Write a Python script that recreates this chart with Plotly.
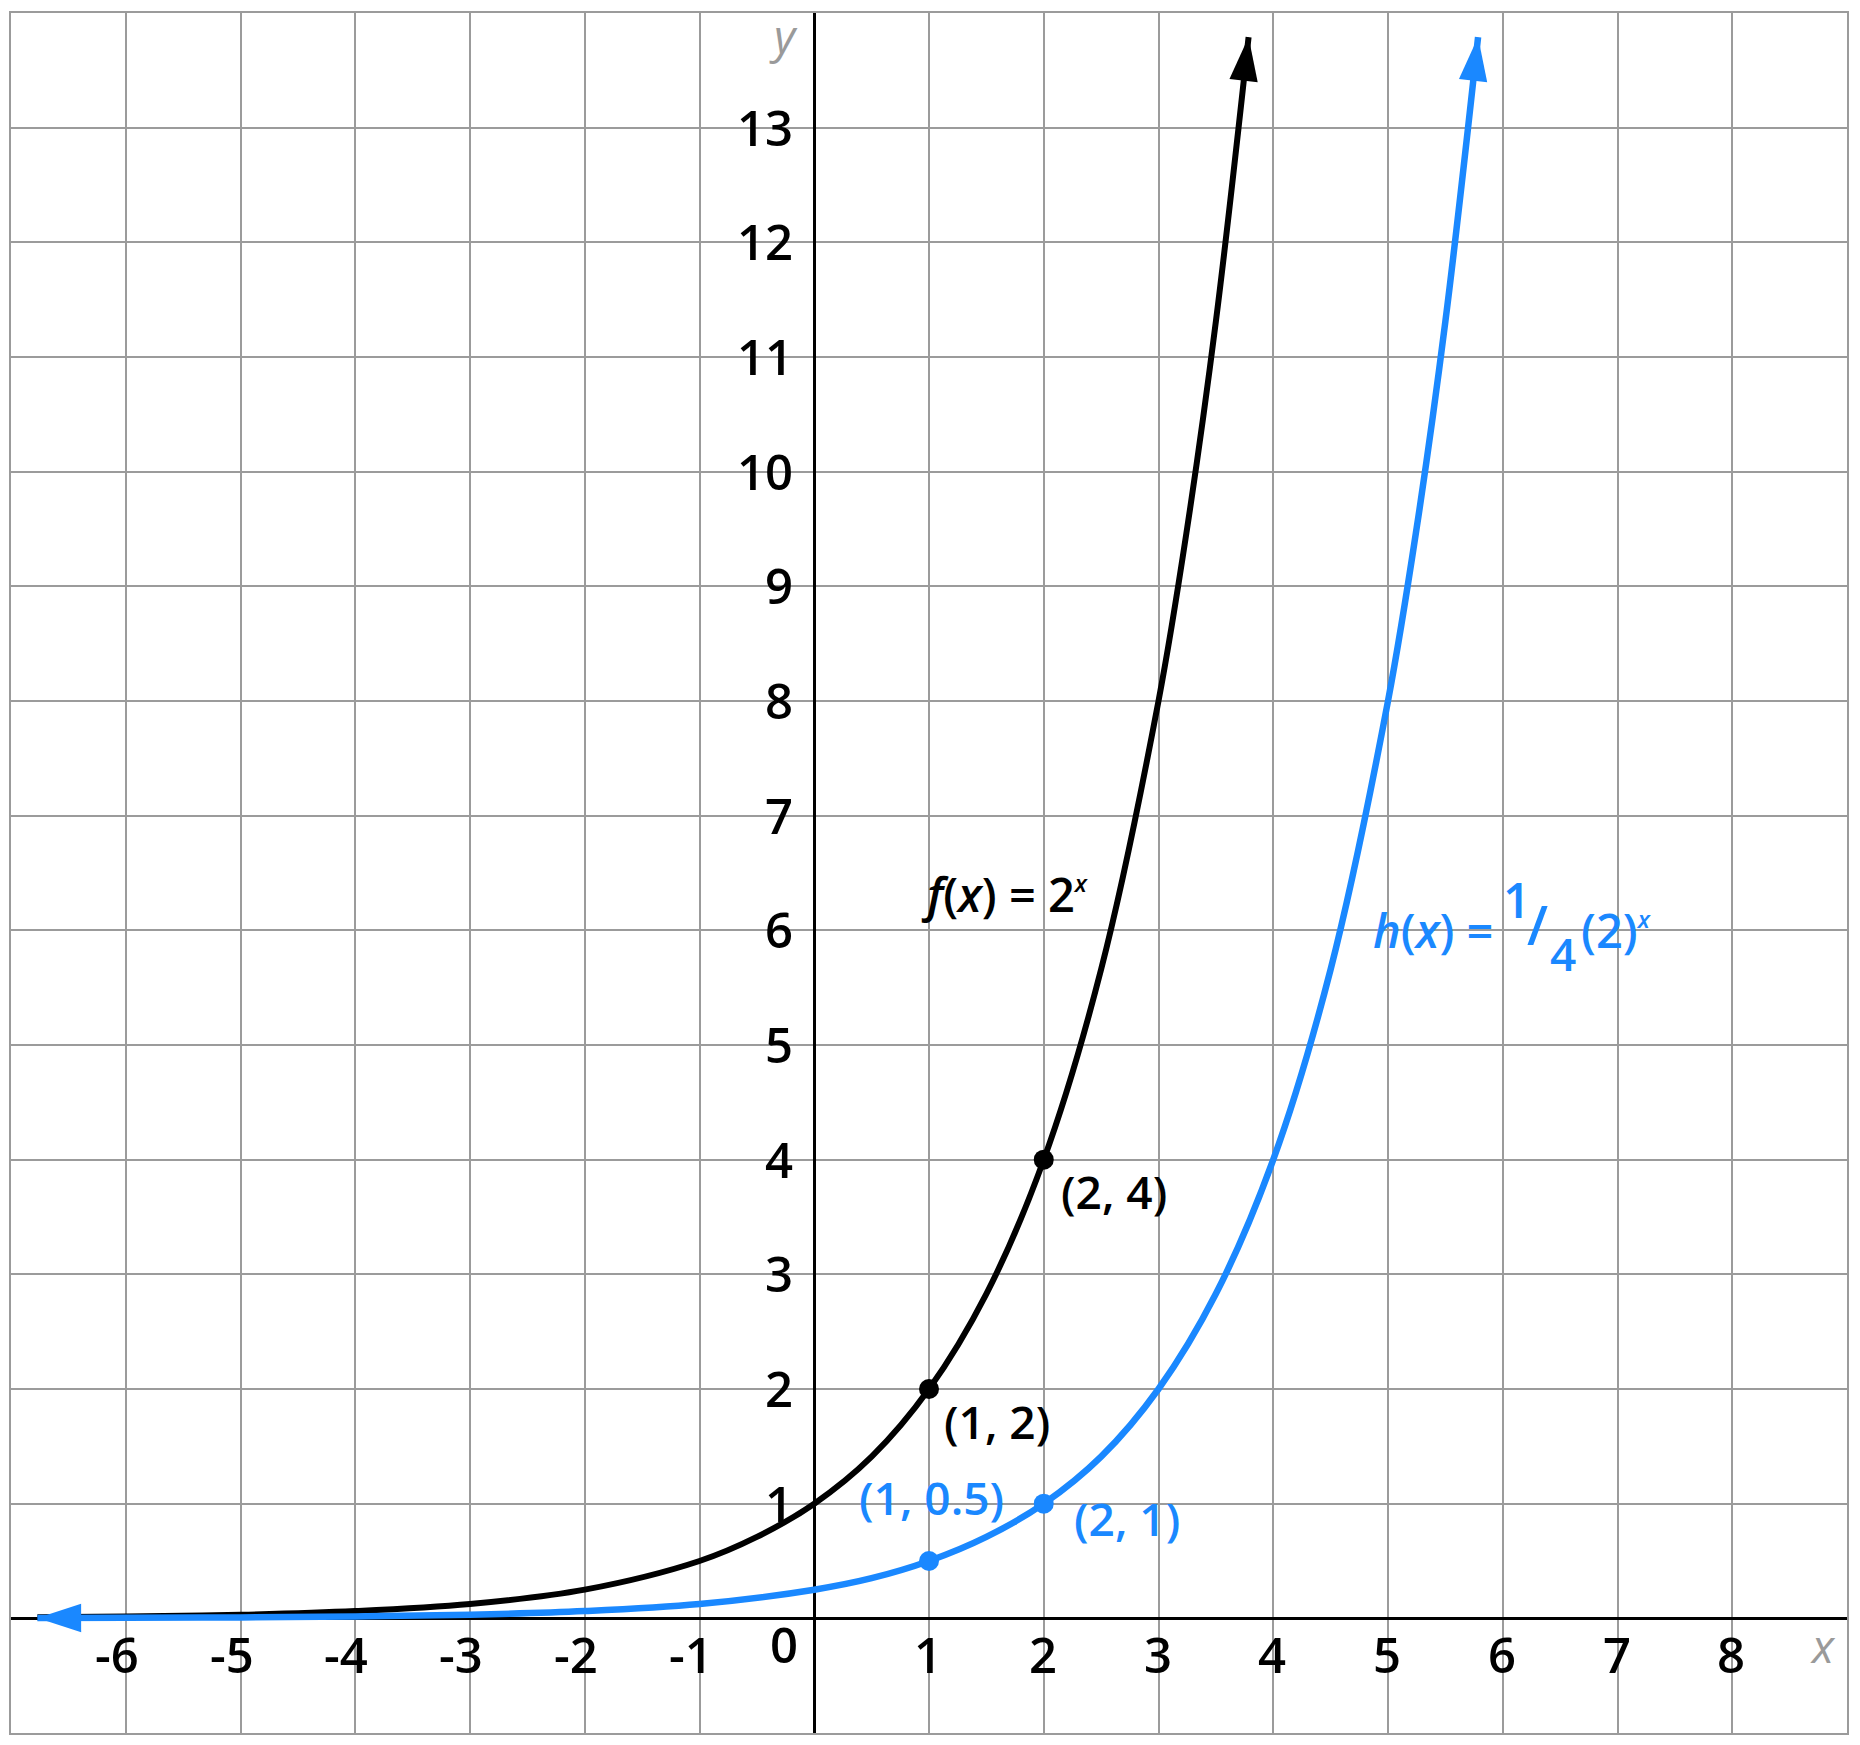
import plotly.graph_objects as go

# ---------------- data ----------------
f_x = [-6.77, -6, -5, -4, -3, -2, -1, -0.5, 0, 0.5, 1, 1.5, 2, 2.5, 3, 3.25, 3.5, 3.785]
f_y = [0.009, 0.016, 0.031, 0.063, 0.125, 0.25, 0.5, 0.71, 1, 1.41, 2, 2.83, 4, 5.66, 8, 9.51, 11.31, 13.79]

h_x = [-6.77, -6, -5, -4, -3, -2, -1, 0, 0.5, 1, 1.5, 2, 2.5, 3, 3.5, 4, 4.5, 5, 5.25, 5.5, 5.785]
h_y = [0.002, 0.004, 0.008, 0.016, 0.031, 0.063, 0.125, 0.25, 0.35, 0.5, 0.71, 1, 1.41, 2, 2.83, 4, 5.66, 8, 9.51, 11.31, 13.79]

f_pts_x = [1, 2]
f_pts_y = [2, 4]
h_pts_x = [1, 2]
h_pts_y = [0.5, 1]
f_pts_text = ["(1, 2)", "(2, 4)"]
h_pts_text = ["(1, 0.5)", "(2, 1)"]

x_tick_vals = [-6, -5, -4, -3, -2, -1, 1, 2, 3, 4, 5, 6, 7, 8]
y_tick_vals = [1, 2, 3, 4, 5, 6, 7, 8, 9, 10, 11, 12, 13]
x_range = [-7, 9]
y_range = [-1, 14]

# ---------------- style ----------------
BLACK = "#000000"
BLUE = "#1a88ff"
GRID = "#9b9b9b"
AXLBL = "#9a9a9a"
FONT = "Open Sans"
ARROW = 46

fig = go.Figure()

def curve(xs, ys, color, width):
    n = len(xs)
    return go.Scatter(
        x=xs, y=ys, mode="lines+markers",
        line=dict(color=color, width=width, shape="spline"),
        marker=dict(symbol=["circle"] * (n - 1) + ["arrow"],
                    size=[0] * (n - 1) + [ARROW], opacity=1,
                    angleref="previous", color=color, line=dict(width=0)),
        hoverinfo="skip", showlegend=False, cliponaxis=False,
    )

fig.add_trace(curve(f_x, f_y, BLACK, 6))
fig.add_trace(curve(h_x, h_y, BLUE, 6.5))

# left arrow head of the blue curve
fig.add_trace(go.Scatter(
    x=[h_x[1], h_x[0]], y=[h_y[1], h_y[0]], mode="markers",
    marker=dict(symbol=["circle", "arrow"], size=[0, ARROW], angleref="previous", opacity=1,
                color=BLUE, line=dict(width=0)),
    hoverinfo="skip", showlegend=False, cliponaxis=False,
))

fig.add_trace(go.Scatter(x=f_pts_x, y=f_pts_y, mode="markers",
                         marker=dict(color=BLACK, size=20, opacity=1), hoverinfo="skip", showlegend=False))
fig.add_trace(go.Scatter(x=h_pts_x, y=h_pts_y, mode="markers",
                         marker=dict(color=BLUE, size=20, opacity=1), hoverinfo="skip", showlegend=False))

ann = []
tick_font = dict(family=FONT, size=49, color=BLACK, weight=600)
for v in x_tick_vals:
    ann.append(dict(x=v, y=0, text=str(v), showarrow=False, xanchor="right", yanchor="middle",
                    xshift=15, yshift=-35.5, font=tick_font))
for v in y_tick_vals:
    ann.append(dict(x=0, y=v, text=str(v), showarrow=False, xanchor="right", yanchor="middle",
                    xshift=-19, yshift=1, font=tick_font))
ann.append(dict(x=0, y=0, text="0", showarrow=False, xanchor="center", yanchor="middle",
                xshift=-30, yshift=-25.5, font=tick_font))

# axis names
ax_font = dict(family=FONT, size=46, color=AXLBL, weight=400)
ann.append(dict(x=0, y=y_range[1], text="<i>y</i>", showarrow=False, xanchor="center", yanchor="middle",
                xshift=-31, yshift=-22, font=ax_font))
ann.append(dict(x=x_range[1], y=0, text="<i>x</i>", showarrow=False, xanchor="center", yanchor="middle",
                xshift=-24, yshift=-26.5, font=ax_font))

# point labels
pt_font_k = dict(family=FONT, size=46, color=BLACK, weight=600)
pt_font_b = dict(family=FONT, size=46, color=BLUE, weight=600)
ann.append(dict(x=f_pts_x[0], y=f_pts_y[0], text=f_pts_text[0], showarrow=False, xanchor="left",
                yanchor="middle", xshift=13, yshift=-32, font=pt_font_k))
ann.append(dict(x=f_pts_x[1], y=f_pts_y[1], text=f_pts_text[1], showarrow=False, xanchor="left",
                yanchor="middle", xshift=15, yshift=-31, font=pt_font_k))
ann.append(dict(x=h_pts_x[0], y=h_pts_y[0], text=h_pts_text[0], showarrow=False, xanchor="center",
                yanchor="middle", xshift=2, yshift=64, font=pt_font_b))
ann.append(dict(x=h_pts_x[1], y=h_pts_y[1], text=h_pts_text[1], showarrow=False, xanchor="left",
                yanchor="middle", xshift=28, yshift=-14, font=pt_font_b))

# function labels
eq_k = dict(family=FONT, size=47, color=BLACK, weight=600)
eq_b = dict(family=FONT, size=47, color=BLUE, weight=600)
sup_x = '<sup><span style="font-size:24px"><i>x</i></span></sup>'
ann.append(dict(x=0.91, y=6.321, text="<i>f</i>(<i>x</i>) = 2" + sup_x, showarrow=False,
                xanchor="left", yanchor="middle", font=eq_k))
ann.append(dict(x=5.935, y=6.0, text="<i>h</i>(<i>x</i>) =", showarrow=False,
                xanchor="right", yanchor="middle", font=eq_b))
ann.append(dict(x=6.118, y=6.273, text="1", showarrow=False,
                xanchor="center", yanchor="middle", font=dict(family=FONT, size=48, color=BLUE, weight=600)))
ann.append(dict(x=6.301, y=6.051, text="/", showarrow=False,
                xanchor="center", yanchor="middle", font=dict(family=FONT, size=54, color=BLUE, weight=600)))
ann.append(dict(x=6.527, y=5.80, text="4", showarrow=False,
                xanchor="center", yanchor="middle", font=dict(family=FONT, size=46, color=BLUE, weight=600)))
ann.append(dict(x=6.667, y=6.0, text="(2)" + sup_x, showarrow=False,
                xanchor="left", yanchor="middle", font=eq_b))

axis_common = dict(
    dtick=1, tick0=0, showgrid=True, gridcolor=GRID, gridwidth=2,
    zeroline=True, zerolinecolor=BLACK, zerolinewidth=3,
    showticklabels=False, ticks="", showline=True, mirror=True,
    linecolor=GRID, linewidth=2, fixedrange=True,
)

fig.update_layout(
    width=1860, height=1745,
    margin=dict(l=11, r=12, t=11, b=12),
    paper_bgcolor="white", plot_bgcolor="white",
    xaxis=dict(range=x_range, **axis_common),
    yaxis=dict(range=y_range, **axis_common),
    annotations=ann, showlegend=False, hovermode=False,
    font=dict(family=FONT),
)

fig.write_html("out.html", config={"displayModeBar": False},
               post_script="document.body.style.margin='0';document.body.style.overflow='hidden';")
